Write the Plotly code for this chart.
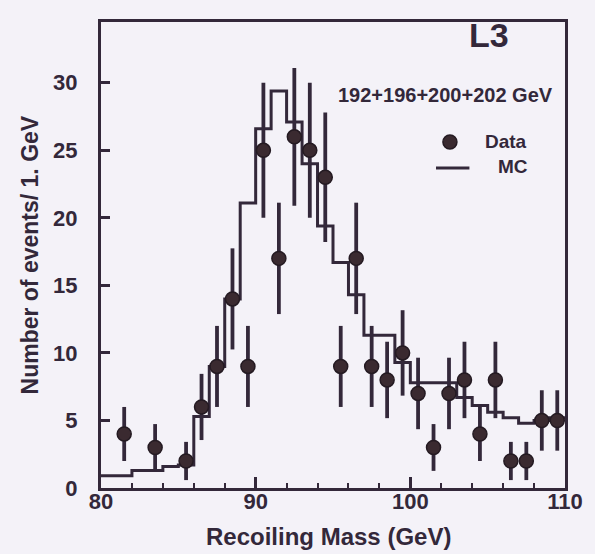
import numpy as np
import plotly.graph_objects as go

# Recoil-mass spectrum, 1 GeV bins from 80 to 110 GeV
bin_edges = list(range(80, 111))
mc_expect = [0.9, 0.9, 1.3, 1.3, 1.6, 1.7, 5.3, 9.0, 14.0, 21.1,
             26.6, 29.4, 27.1, 24.0, 19.4, 16.7, 14.3, 11.3, 11.3, 9.3,
             7.8, 7.8, 7.8, 6.7, 6.1, 5.6, 5.2, 4.8, 5.0, 5.2]

# Observed events (bins with no events are not drawn)
data_mass = [81.5, 83.5, 85.5, 86.5, 87.5, 88.5, 89.5, 90.5, 91.5, 92.5,
             93.5, 94.5, 95.5, 96.5, 97.5, 98.5, 99.5, 100.5, 101.5, 102.5,
             103.5, 104.5, 105.5, 106.5, 107.5, 108.5, 109.5]
data_counts = [4, 3, 2, 6, 9, 14, 9, 25, 17, 26,
               25, 23, 9, 17, 9, 8, 10, 7, 3, 7,
               8, 4, 8, 2, 2, 5, 5]

x_ticks = [80, 90, 100, 110]
y_ticks = [0, 5, 10, 15, 20, 25, 30]

INK = "#33283a"
DOT = "#3a2a30"
BG = "#f4f2f8"
FONT = "Liberation Sans"

fig = go.Figure()

# MC expectation as a step histogram
step_x = bin_edges
step_y = mc_expect + [mc_expect[-1]]
fig.add_trace(go.Scatter(
    x=step_x, y=step_y, mode="lines", line_shape="hv",
    line=dict(color=INK, width=3), showlegend=False, hoverinfo="skip"))

# Data with Poisson errors
fig.add_trace(go.Scatter(
    x=data_mass, y=data_counts, mode="markers",
    marker=dict(size=14, color=DOT, line=dict(color="#241a22", width=1.5)),
    error_y=dict(type="data", array=np.sqrt(data_counts), width=0,
                 thickness=3.8, color=INK),
    showlegend=False))

axis_common = dict(
    showline=True, linecolor=INK, linewidth=3, mirror=True,
    showgrid=False, zeroline=False, ticks="inside", tickcolor=INK,
    tickwidth=2.5, tickfont=dict(family=FONT, size=22, color=INK, weight="bold"))

fig.update_xaxes(range=[80, 110], tickvals=x_ticks, ticklen=11,
                 ticklabelstandoff=-8,
                 minor=dict(dtick=2, ticklen=5, ticks="inside",
                            tickcolor=INK, tickwidth=2),
                 **axis_common)
fig.update_yaxes(range=[0, 34.5], tickvals=y_ticks, ticklen=9,
                 ticklabelstandoff=16, **axis_common)

# Legend and labels drawn in paper coordinates
fig.add_shape(type="circle", xref="paper", yref="paper",
              xsizemode="pixel", ysizemode="pixel",
              xanchor=0.752, yanchor=0.7425, x0=-7, x1=7, y0=-7, y1=7,
              fillcolor=DOT, line=dict(color="#241a22", width=1.5))
fig.add_shape(type="line", xref="paper", yref="paper",
              x0=0.722, x1=0.794, y0=0.6867, y1=0.6867,
              line=dict(color=INK, width=3))

def label(text, x, y, size, xanchor="center", angle=0):
    fig.add_annotation(text=text, x=x, y=y, xref="paper", yref="paper",
                       xanchor=xanchor, yanchor="middle", showarrow=False,
                       textangle=angle,
                       font=dict(family=FONT, size=size, color=INK, weight="bold"))

label("Data", 0.922, 0.7425, 19, xanchor="right")
label("MC", 0.925, 0.689, 19, xanchor="right")
label("192+196+200+202 GeV", 0.978, 0.843, 20, xanchor="right")
label("L3", 0.884, 0.972, 34, xanchor="right")
label("Recoiling Mass (GeV)", 0.491, -0.105, 24)
label("Number of events/ 1. GeV", -0.152, 0.5, 23, angle=-90)

fig.update_layout(
    width=595, height=554,
    margin=dict(l=101, r=27, t=22, b=66),
    paper_bgcolor=BG, plot_bgcolor=BG,
)

fig.write_html("out.html")
